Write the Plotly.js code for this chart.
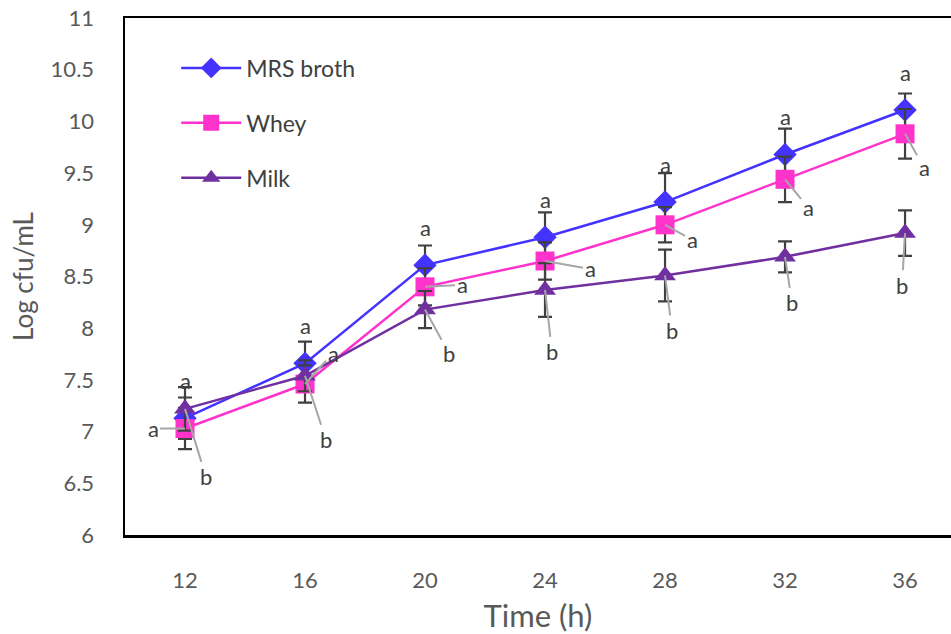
<!DOCTYPE html>
<html>
<head>
<meta charset="utf-8">
<script src="https://cdn.plot.ly/plotly-3.0.1.min.js"></script>
<style>html,body{margin:0;padding:0;background:#fff;}#chart{width:951px;height:634px;}</style>
</head>
<body>
<div id="chart"></div>
<script>
// ---- data ----
const times = ['12', '16', '20', '24', '28', '32', '36'];
const mrs = [7.13, 7.66, 8.61, 8.88, 9.22, 9.68, 10.11];
const mrsErr = [0.20, 0.21, 0.19, 0.24, 0.28, 0.25, 0.16];
const whey = [7.03, 7.46, 8.40, 8.65, 9.00, 9.44, 9.88];
const wheyErr = [0.20, 0.18, 0.18, 0.18, 0.17, 0.22, 0.24];
const milk = [7.22, 7.54, 8.18, 8.37, 8.51, 8.69, 8.92];
const milkErr = [0.21, 0.15, 0.18, 0.26, 0.25, 0.15, 0.22];
const mrsLetters = ['a', 'a', 'a', 'a', 'a', 'a', 'a'];
const wheyLetters = ['a', 'a', 'a', 'a', 'a', 'a', 'a'];
const milkLetters = ['b', 'b', 'b', 'b', 'b', 'b', 'b'];
const seriesNames = ['MRS broth', 'Whey', 'Milk'];

// ---- label placement (pixel offsets) ----
const wheyOff = [[-32, 0], [28, -31], [37, -2], [45, 8], [27, 15], [23, 28], [19, 34]];
const milkOff = [[21, 68], [21, 64], [24, 44], [7, 62], [7, 55], [7, 46], [-3, 52]];

const FONT = 'Lato, "Open Sans", sans-serif';
const errStyle = (arr) => ({type: 'data', array: arr, visible: true, color: '#404040', thickness: 2.2, width: 7});

const traces = [
  {x: times, y: mrs, name: seriesNames[0], type: 'scatter', mode: 'lines+markers', legendgroup: 'g1',
   line: {color: '#4433ff', width: 2.5}, marker: {symbol: 'diamond', size: 18, color: '#4433ff'},
   error_y: errStyle(mrsErr)},
  {x: times, y: whey, name: seriesNames[1], type: 'scatter', mode: 'lines+markers', legendgroup: 'g2',
   line: {color: '#ff33cc', width: 2.5}, marker: {symbol: 'square', size: 19, color: '#ff33cc'},
   error_y: errStyle(wheyErr)},
  {x: times, y: milk, name: seriesNames[2], type: 'scatter', mode: 'lines+markers', legendgroup: 'g3',
   line: {color: '#7030a0', width: 2.5}, marker: {symbol: 'triangle-up', size: 19, color: '#7030a0'},
   error_y: errStyle(milkErr)}
];

const annotations = [];
const letterFont = {family: FONT, size: 22, color: '#404040'};
times.forEach((t, i) => {
  annotations.push({x: i, y: mrs[i], xref: 'x', yref: 'y', text: mrsLetters[i], showarrow: false,
    yshift: 38, font: letterFont});
  annotations.push({x: i, y: whey[i], xref: 'x', yref: 'y', text: wheyLetters[i], showarrow: true,
    arrowhead: 0, arrowwidth: 2, arrowcolor: '#a6a6a6', ax: wheyOff[i][0], ay: wheyOff[i][1], font: letterFont});
  annotations.push({x: i, y: milk[i], xref: 'x', yref: 'y', text: milkLetters[i], showarrow: true,
    arrowhead: 0, arrowwidth: 2, arrowcolor: '#a6a6a6', ax: milkOff[i][0], ay: milkOff[i][1], font: letterFont});
});

const layout = {
  width: 951, height: 634,
  margin: {l: 125, r: 0, t: 18, b: 99},
  paper_bgcolor: '#ffffff', plot_bgcolor: '#ffffff',
  font: {family: FONT, color: '#595959'},
  showlegend: true,
  legend: {x: 0.062, y: 0.945, xanchor: 'left', yanchor: 'top', bgcolor: 'rgba(0,0,0,0)',
    font: {family: FONT, size: 23, color: '#404040'}, traceorder: 'grouped', tracegroupgap: 22, itemwidth: 60},
  xaxis: {type: 'category', range: [-0.5, 6.383], showgrid: false, zeroline: false,
    showline: true, mirror: true, linecolor: '#000000', linewidth: 2.5,
    ticks: 'outside', ticklen: 24, tickcolor: 'rgba(0,0,0,0)',
    tickfont: {family: FONT, size: 22, color: '#595959'},
    title: {text: 'Time (h)', font: {family: FONT, size: 31, color: '#595959'}, standoff: 14}},
  yaxis: {range: [6, 11], dtick: 0.5, tick0: 6, showgrid: false, zeroline: false,
    showline: true, linecolor: '#000000', linewidth: 2.5,
    ticks: 'outside', ticklen: 24, tickcolor: 'rgba(0,0,0,0)',
    tickfont: {family: FONT, size: 22, color: '#595959'},
    title: {text: 'Log cfu/mL', font: {family: FONT, size: 26, color: '#595959'}, standoff: 10}},
  annotations: annotations
};

Plotly.newPlot('chart', traces, layout, {displayModeBar: false, staticPlot: true});
</script>
</body>
</html>
